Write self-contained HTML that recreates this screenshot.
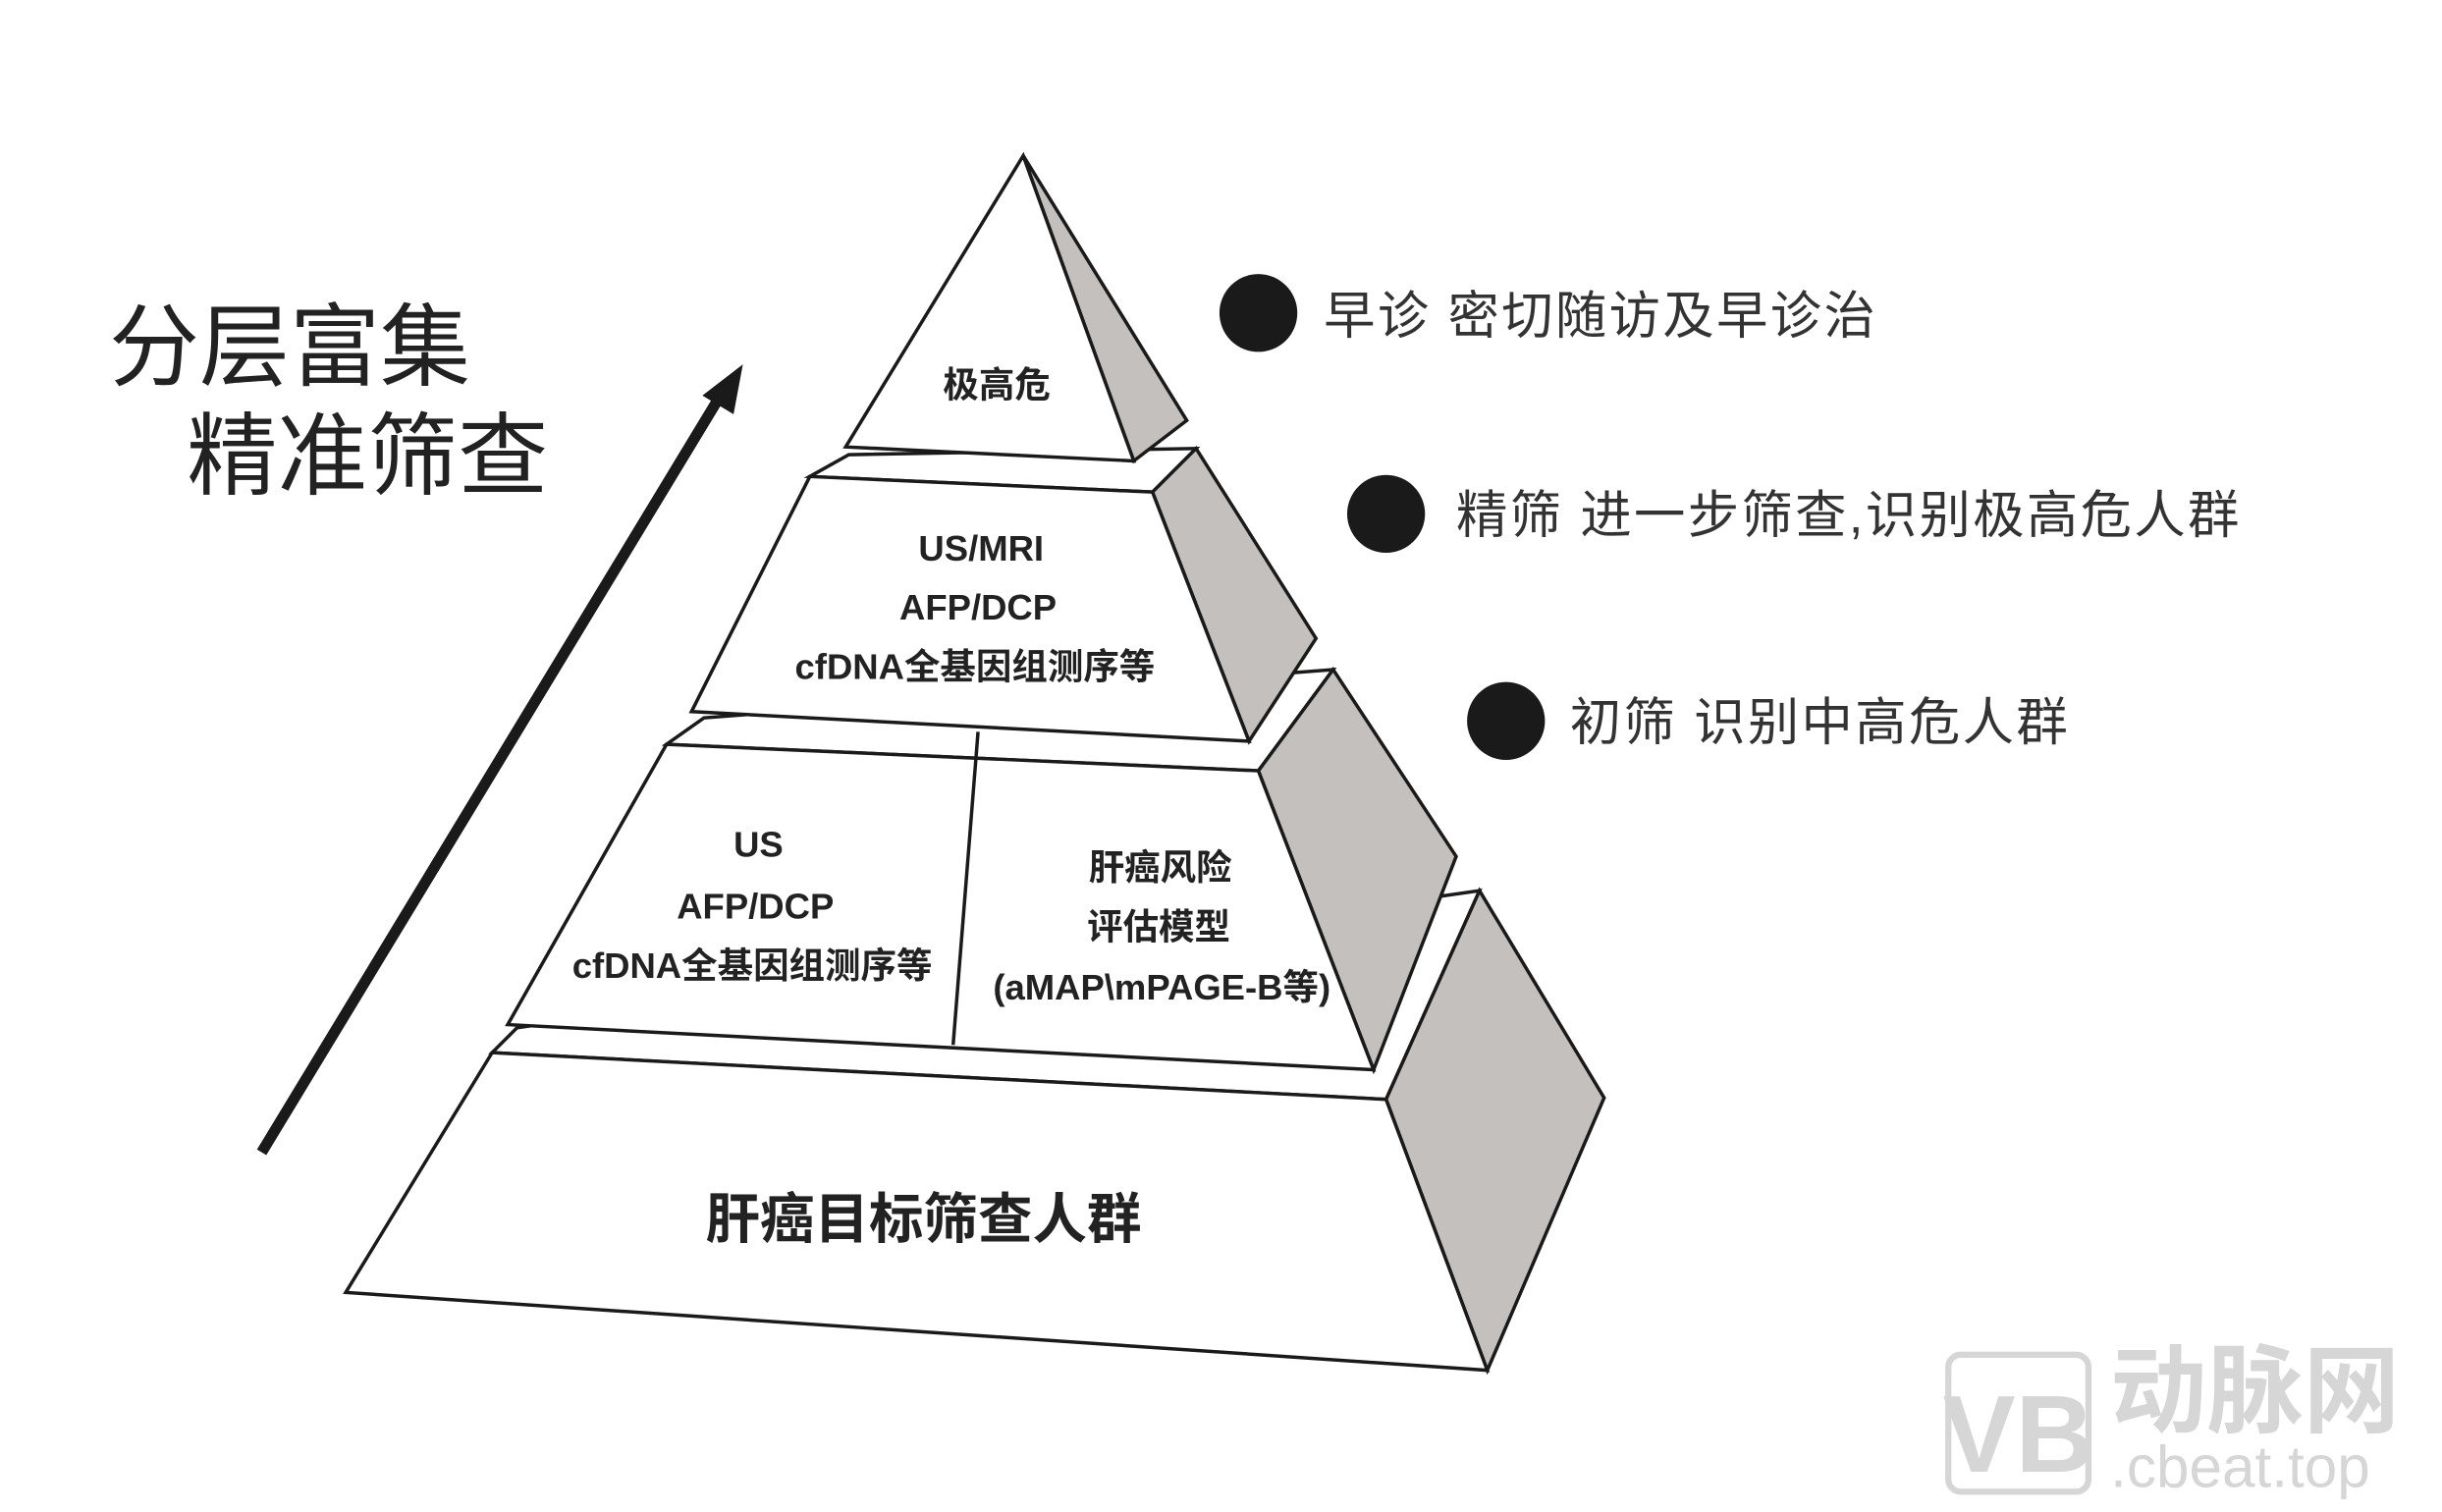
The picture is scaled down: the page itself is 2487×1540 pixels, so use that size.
<!DOCTYPE html>
<html><head><meta charset="utf-8"><style>
html,body{margin:0;padding:0;background:#fff;}
svg{display:block;}
text{font-family:"Liberation Sans","Noto Sans CJK SC",sans-serif;}
</style></head><body>
<svg width="2487" height="1540" viewBox="0 0 1568 971" preserveAspectRatio="none" xmlns="http://www.w3.org/2000/svg">
<rect width="1568" height="971" fill="#fff"/>
<g stroke="#1a1a1a" stroke-width="2.2" stroke-linejoin="miter">
<polygon points="316,676 332,660 950,572 890,706" fill="#fff"/>
<polygon points="890,706 950,572 1030,705 955,880" fill="#c3c0bd"/>
<polygon points="316,676 890,706 955,880 222,830" fill="#fff"/>
<polygon points="428,478 452,461 856,430 808,495" fill="#fff"/>
<polygon points="808,495 856,430 935,550 882,687" fill="#c3c0bd"/>
<polygon points="428,478 808,495 882,687 326,658" fill="#fff"/>
<line x1="628" y1="470" x2="612" y2="671"/>
<polygon points="520,306 545,292 768,288 740,316" fill="#fff"/>
<polygon points="740,316 768,288 845,410 802,476" fill="#c3c0bd"/>
<polygon points="520,306 740,316 802,476 444,457" fill="#fff"/>
<polygon points="657,100 762,270 728,296" fill="#c3c0bd"/>
<polygon points="657,100 728,296 543,287" fill="#fff"/>
</g>
<line x1="168" y1="740" x2="462" y2="255" stroke="#1a1a1a" stroke-width="7"/>
<polygon points="477,234 451,254 471,266" fill="#1a1a1a"/>
<text x="70" y="243" font-size="58" fill="#222">分层富集</text>
<text x="120" y="313" font-size="58" fill="#222">精准筛查</text>
<g font-weight="bold" fill="#222" font-size="23" text-anchor="middle">
<text x="640" y="255">极高危</text>
<text x="630" y="360">US/MRI</text>
<text x="628" y="398">AFP/DCP</text>
<text x="626" y="436">cfDNA全基因组测序等</text>
<text x="487" y="550">US</text>
<text x="485" y="590">AFP/DCP</text>
<text x="483" y="628">cfDNA全基因组测序等</text>
<text x="745" y="565">肝癌风险</text>
<text x="744" y="603">评估模型</text>
<text x="746" y="642">(aMAP\mPAGE-B等)</text>
<text x="593" y="795" font-size="35">肝癌目标筛查人群</text>
</g>
<g fill="#1a1a1a"><circle cx="808" cy="201" r="25"/><circle cx="890" cy="330" r="25"/><circle cx="967" cy="463" r="25"/></g>
<g font-size="33" fill="#333" letter-spacing="1.5" xml:space="preserve">
<text x="850" y="214">早诊  密切随访及早诊治</text>
<text x="935" y="342">精筛  进一步筛查,识别极高危人群</text>
<text x="1008" y="475">初筛  识别中高危人群</text>
</g>
<rect x="1251" y="870" width="90" height="88" rx="8" fill="none" stroke="#d6d6d6" stroke-width="4"/>
<text x="1296" y="945" font-size="70" font-weight="bold" fill="#d6d6d6" text-anchor="middle">VB</text>
<text x="1355" y="915" font-size="62" font-weight="bold" fill="#d6d6d6">动脉网</text>
<text x="1355" y="955" font-size="38" fill="#d6d6d6">.cbeat.top</text>
</svg>
</body></html>
